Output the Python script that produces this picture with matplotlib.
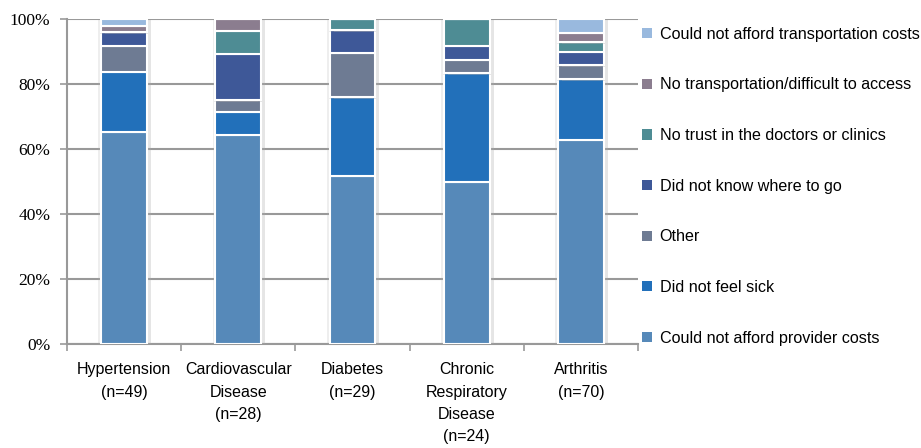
import numpy as np
import matplotlib.pyplot as plt
import matplotlib.patheffects as pe
from matplotlib.patches import Patch

# categories and counts (converted to % of n)
categories = ['Hypertension\n(n=49)', 'Cardiovascular\nDisease\n(n=28)', 'Diabetes\n(n=29)',
              'Chronic\nRespiratory\nDisease\n(n=24)', 'Arthritis\n(n=70)']
n_total = [49, 28, 29, 24, 70]

series_names = ['Could not afford provider costs', 'Did not feel sick', 'Other',
                'Did not know where to go', 'No trust in the doctors or clinics',
                'No transportation/difficult to access', 'Could not afford transportation costs']
provider_costs = [32, 18, 15, 12, 44]
not_sick = [9, 2, 7, 8, 13]
other = [4, 1, 4, 1, 3]
not_know = [2, 4, 2, 1, 3]
no_trust = [0, 2, 1, 2, 2]
no_transport = [1, 1, 0, 0, 2]
transport_costs = [1, 0, 0, 0, 3]

colors = ['#5689B9', '#2270BA', '#6E7B93', '#3E5898', '#4E8C94', '#8B7D8F', '#99B9DE']

counts = [provider_costs, not_sick, other, not_know, no_trust, no_transport, transport_costs]

fig = plt.figure(figsize=(9.21, 4.48), dpi=100)
ax = fig.add_axes([0.0727, 0.232, 0.62, 0.7256])

x = np.arange(len(categories))
bottom = np.zeros(len(categories))
for name, vals, col in zip(series_names, counts, colors):
    pct = np.array(vals) / np.array(n_total) * 100
    bars = ax.bar(x, pct, 0.4, bottom=bottom, color=col, edgecolor='white', linewidth=1.5, zorder=3)
    for b in bars:
        b.set_path_effects([pe.SimplePatchShadow(offset=(3, -1), shadow_rgbFace='#aaaaaa', alpha=0.3),
                            pe.SimplePatchShadow(offset=(-2, -1), shadow_rgbFace='#aaaaaa', alpha=0.2),
                            pe.Normal()])
    bottom += pct

ax.set_xlim(-0.5, 4.5)
ax.set_ylim(0, 100)
ax.set_yticks(np.arange(0, 101, 20))
ax.set_yticklabels([f'{v}%' for v in range(0, 101, 20)], fontfamily='Liberation Serif', fontsize=12.5)
ax.yaxis.grid(True, color='#999999', linewidth=1.5, zorder=0)
ax.set_xticks(x)
ax.set_xticklabels(categories, fontfamily='Liberation Sans', fontsize=11.5, linespacing=1.62)
ax.set_xticks(np.arange(-0.5, 5, 1), minor=True)
ax.tick_params(axis='x', which='major', length=0, pad=13)
ax.tick_params(axis='x', which='minor', length=5, color='#999999', width=1.2)
ax.tick_params(axis='y', length=5, color='#999999', width=1.2, pad=7)
for s in ['top', 'right']:
    ax.spines[s].set_visible(False)
for s in ['left', 'bottom']:
    ax.spines[s].set_color('#999999')
    ax.spines[s].set_linewidth(1.5)

handles = [Patch(facecolor=c, edgecolor='none') for c in colors]
fig.legend(handles[::-1], series_names[::-1], loc='upper left', bbox_to_anchor=(0.697, 0.94),
           frameon=False, prop={'family': 'Liberation Sans', 'size': 11.6},
           handlelength=0.6, handleheight=0.6, handletextpad=0.5, labelspacing=2.21,
           borderaxespad=0, borderpad=0)

fig.savefig('out.png', dpi=100)
